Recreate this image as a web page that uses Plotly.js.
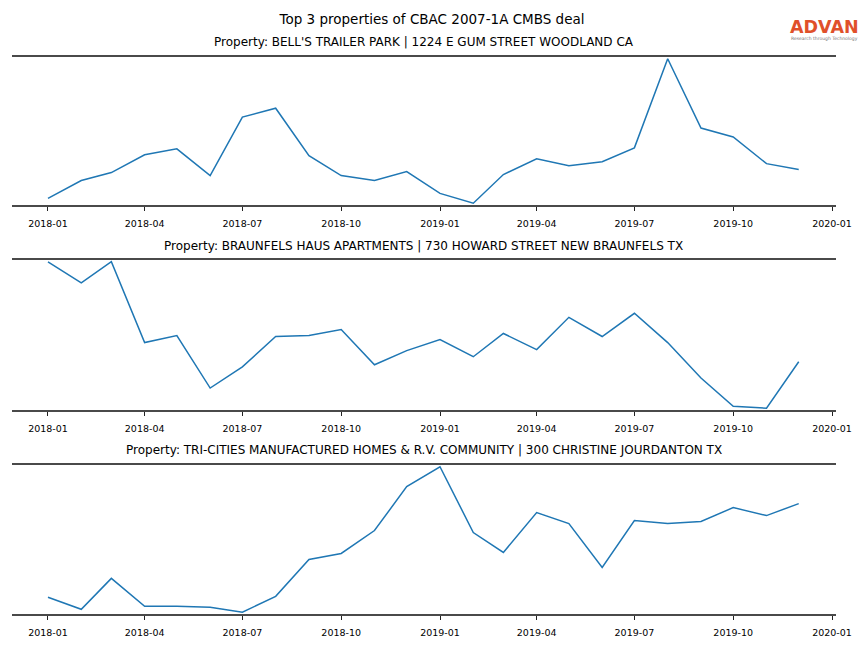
<!DOCTYPE html>
<html>
<head>
<meta charset="utf-8">
<script src="https://cdn.plot.ly/plotly-3.0.1.min.js"></script>
<style>
html,body{margin:0;padding:0;background:#fff;}
#chart{width:864px;height:648px;}
</style>
</head>
<body>
<div id="chart"></div>
<script>
// Monthly dates
const months = ["2018-01-01","2018-02-01","2018-03-01","2018-04-01","2018-05-01","2018-06-01",
  "2018-07-01","2018-08-01","2018-09-01","2018-10-01","2018-11-01","2018-12-01",
  "2019-01-01","2019-02-01","2019-03-01","2019-04-01","2019-05-01","2019-06-01",
  "2019-07-01","2019-08-01","2019-09-01","2019-10-01","2019-11-01","2019-12-01"];

// Relative values (no y-axis scale is shown)
const bellsTrailerPark = [6, 24, 32, 50, 56, 29, 88, 97, 49, 29, 24, 33,
  11, 1, 30, 46, 39, 43, 57, 147, 77, 68, 41, 35];
const braunfelsHaus = [147, 126, 147, 67, 74, 22, 43, 73, 74, 80, 45, 59,
  70, 53, 76, 60, 92, 73, 96, 67, 32, 4, 2, 48];
const triCities = [16, 4, 35, 7, 7, 6, 1, 17, 54, 60, 83, 127,
  147, 81, 61, 101, 90, 46, 93, 90, 92, 106, 98, 110];

const propertyTitles = [
  "Property: BELL'S TRAILER PARK | 1224 E GUM STREET WOODLAND CA",
  "Property: BRAUNFELS HAUS APARTMENTS | 730 HOWARD STREET NEW BRAUNFELS TX",
  "Property: TRI-CITIES MANUFACTURED HOMES & R.V. COMMUNITY | 300 CHRISTINE JOURDANTON TX"
];
const chartTitle = "Top 3 properties of CBAC 2007-1A CMBS deal";

const series = [bellsTrailerPark, braunfelsHaus, triCities];
const font = "DejaVu Sans, Verdana, sans-serif";
const H = 648;
const xDom = [12/864, 836/864];
const yDoms = [[1-205/H, 1-57/H], [1-410/H, 1-260/H], [1-614/H, 1-465/H]];
const titleY = [42, 246, 450];
const xRange = ["2017-11-28 12:00", "2020-01-04 17:00"];

const traces = [];
const layout = {
  width: 864, height: 648,
  margin: {l:0, r:0, t:0, b:0},
  paper_bgcolor: "#fff", plot_bgcolor: "#fff",
  showlegend: false,
  font: {family: font, color: "#000"},
  title: {text: chartTitle, x: 0.5, xanchor: "center", y: 1-19/H, yanchor: "middle",
          font: {family: font, size: 13.5, color: "#000"}},
  annotations: []
};

series.forEach((vals, i) => {
  const n = i === 0 ? "" : String(i+1);
  traces.push({
    x: months, y: vals, type: "scatter", mode: "lines",
    line: {color: "#1f77b4", width: 1.5},
    xaxis: "x" + n, yaxis: "y" + n, hoverinfo: "skip"
  });
  const mn = Math.min(...vals), mx = Math.max(...vals), pad = (mx - mn) * 0.012;
  layout["xaxis" + n] = {
    domain: xDom, anchor: "y" + n, type: "date", range: xRange,
    tick0: "2018-01-01", dtick: "M3", tickformat: "%Y-%m",
    ticks: "outside", ticklen: 4, tickwidth: 1, tickcolor: "#222",
    ticklabelstandoff: 5,
    showline: true, linecolor: "#4a4a4a", linewidth: 2, mirror: true,
    showgrid: false, zeroline: false,
    tickfont: {family: font, size: 9.5, color: "#000"}
  };
  layout["yaxis" + n] = {
    domain: yDoms[i], anchor: "x" + n, range: [mn - pad, mx + pad],
    visible: false, showgrid: false, zeroline: false
  };
  layout.annotations.push({
    text: propertyTitles[i], xref: "paper", yref: "paper",
    x: (xDom[0] + xDom[1]) / 2, y: 1 - titleY[i]/H,
    xanchor: "center", yanchor: "middle", showarrow: false,
    font: {family: font, size: 12, color: "#000"}
  });
});

// Logo
layout.annotations.push({
  text: "ADVAN", xref: "paper", yref: "paper", x: 824.5/864, y: 1 - 27/H,
  xanchor: "center", yanchor: "middle", showarrow: false,
  font: {family: font, size: 17.5, color: "#e0502a", weight: 600}
});
layout.annotations.push({
  text: "Research through Technology", xref: "paper", yref: "paper", x: 824.5/864, y: 1 - 38/H,
  xanchor: "center", yanchor: "middle", showarrow: false,
  font: {family: font, size: 4.5, color: "#777"}
});

Plotly.newPlot("chart", traces, layout, {staticPlot: true, displayModeBar: false});
</script>
</body>
</html>
